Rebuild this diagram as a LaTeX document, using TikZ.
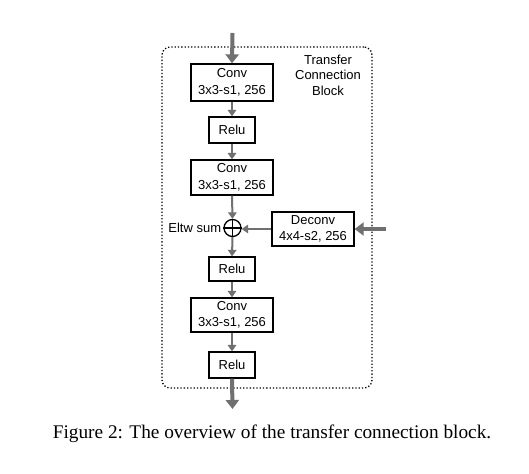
\documentclass[tikz,border=0pt]{standalone}
\usepackage{fontspec}
\setmainfont{Liberation Sans}
\newfontfamily\capfont{Liberation Serif}
\usetikzlibrary{arrows.meta}
\definecolor{arrgray}{RGB}{112,112,112}
\begin{document}
\begin{tikzpicture}[x=1pt,y=-1pt,
  blk/.style={draw=black,line width=1.3pt,fill=white,inner sep=0pt,align=center,
    font=\fontsize{13}{16.5}\selectfont},
  thin/.style={draw=arrgray,line width=2pt,-{Triangle[width=8.5pt,length=6.5pt]}},
  thick/.style={draw=arrgray,line width=4pt,-{Triangle[width=13pt,length=9pt]}},
  lbl/.style={font=\fontsize{13}{15.5}\selectfont,align=center,inner sep=0pt}]
\useasboundingbox (0,0) rectangle (529,473);
\fill[white] (0,0) rectangle (529,473);
% dotted block
\node[draw=black,line width=1.3pt,dotted,rounded corners=8pt,minimum width=210pt,minimum height=341pt,inner sep=0pt] (frame) at (267,217.5) {};
\node[lbl] (title) at (328,75) {Transfer\\Connection\\Block};
% nodes
\node[blk,minimum width=82pt,minimum height=37pt] (conv1) at (232,82.5) {Conv\\3x3-s1, 256};
\node[blk,minimum width=46pt,minimum height=26pt] (relu1) at (232,130) {Relu};
\node[blk,minimum width=82pt,minimum height=35pt] (conv2) at (232,177.5) {Conv\\3x3-s1, 256};
\node[draw=black,line width=1.3pt,circle,minimum size=17pt,inner sep=0pt] (sum) at (232.5,228) {};
\draw[black,line width=1.3pt] (sum.north) -- (sum.south) (sum.west) -- (sum.east);
\node[lbl,anchor=east,xshift=-2pt] (eltw) at (sum.west) {Eltw sum};
\node[blk,minimum width=82pt,minimum height=34pt] (deconv) at (313,229) {Deconv\\4x4-s2, 256};
\node[blk,minimum width=46pt,minimum height=24pt] (relu2) at (232,269) {Relu};
\node[blk,minimum width=82pt,minimum height=34pt] (conv3) at (232,315) {Conv\\3x3-s1, 256};
\node[blk,minimum width=46pt,minimum height=26pt] (relu3) at (232,365) {Relu};
% free ends
\coordinate (in) at (232.5,33);
\coordinate (out) at (232.5,409);
\coordinate (side) at (386,229);
% connectors
\draw[thick] (in) -- (conv1.north);
\draw[thin] (conv1.south) -- (relu1.north);
\draw[thin] (relu1.south) -- (conv2.north);
\draw[thin] (conv2.south) -- (sum.north);
\draw[thin] (deconv.west) -- (sum.east |- deconv.west);
\draw[thin] (sum.south) -- (relu2.north);
\draw[thin] (relu2.south) -- (conv3.north);
\draw[thin] (conv3.south) -- (relu3.north);
\draw[thick] (relu3.south) -- (out);
\draw[thick] (side) -- (deconv.east);
% caption
\node[font=\capfont\fontsize{19.3}{22}\selectfont,inner sep=0pt] (cap) at (272,434) {Figure 2: The overview of the transfer connection block.};
\end{tikzpicture}
\end{document}
